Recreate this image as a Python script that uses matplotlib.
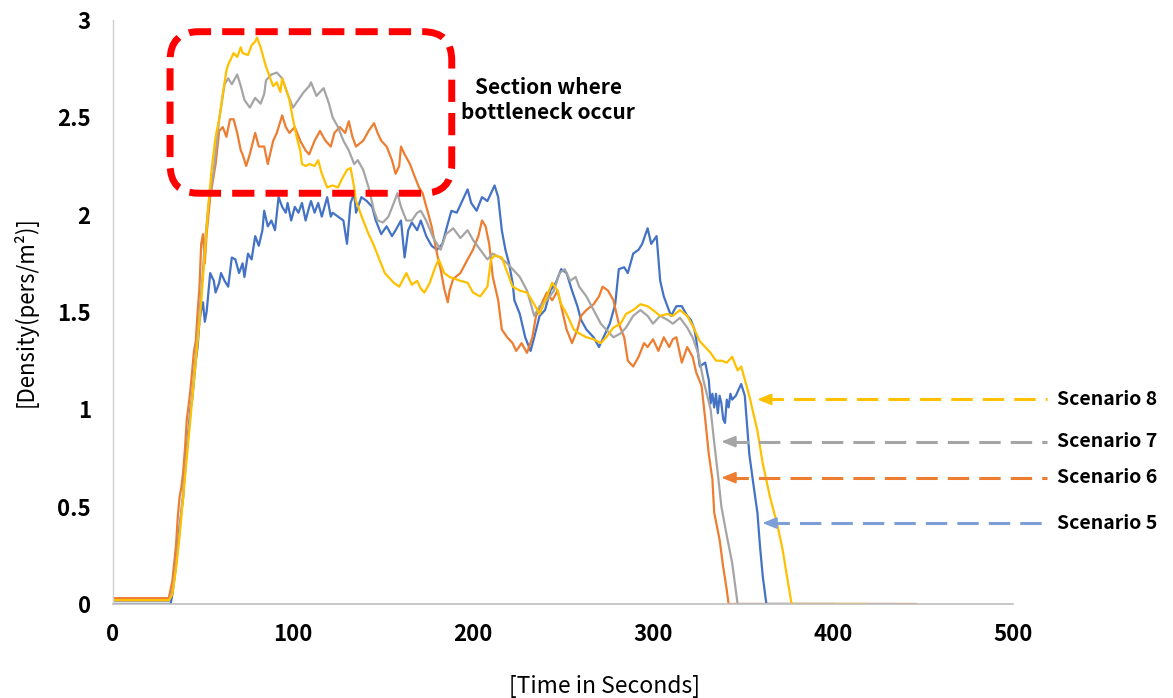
import matplotlib
matplotlib.use("Agg")
import matplotlib.pyplot as plt
from matplotlib.patches import FancyBboxPatch

plt.rcParams['font.family'] = ['Noto Sans CJK KR', 'DejaVu Sans']

# values (time in s, density in pers/m2)
t_s5 = [0, 32, 33, 35, 37, 39, 40, 41, 42, 43, 44, 45, 46, 47, 48, 49, 50, 51, 52, 54,
        56, 57, 59, 60, 62, 64, 66, 68, 70, 72, 73, 75, 77, 79, 81, 83, 84, 86, 88, 90,
        92, 94, 96, 97, 99, 101, 103, 105, 107, 109, 110, 112, 114, 116, 119, 121, 122,
        125, 128, 130, 132, 134, 135, 138, 141, 144, 146, 149, 152, 155, 157, 160, 162,
        164, 166, 169, 171, 174, 177, 180, 183, 185, 188, 191, 194, 197, 199, 202, 205,
        208, 210, 212, 214, 216, 218, 220, 222, 223, 226, 229, 232, 234, 237, 240, 243,
        246, 249, 252, 255, 258, 260, 263, 267, 270, 272, 276, 279, 281, 284, 286, 289,
        292, 294, 297, 299, 302, 304, 306, 308, 310, 313, 316, 319, 321, 323, 324, 326,
        329, 331, 332, 333, 334, 335, 336, 337, 338, 339, 340, 341, 342, 343, 344, 346,
        349, 351, 352, 353.5, 356, 358, 359.5, 361, 363, 400]
d_s5 = [0.0, 0.0, 0.05, 0.2, 0.4, 0.55, 0.72, 0.8, 0.9, 1.0, 1.05, 1.15, 1.25, 1.32, 1.45,
        1.51, 1.55, 1.45, 1.5, 1.70, 1.66, 1.60, 1.65, 1.70, 1.66, 1.63, 1.78, 1.77, 1.70,
        1.75, 1.68, 1.80, 1.77, 1.89, 1.84, 1.92, 2.02, 1.94, 1.97, 1.92, 2.09, 2.04, 2.01,
        2.06, 1.97, 2.04, 2.01, 2.06, 1.97, 2.04, 2.07, 2.01, 2.06, 1.99, 2.09, 1.99, 2.01,
        1.99, 1.97, 1.85, 2.06, 2.11, 2.01, 2.09, 2.07, 2.04, 1.97, 1.90, 1.94, 1.89, 1.92,
        1.97, 1.78, 1.92, 1.96, 1.92, 1.97, 1.89, 1.84, 1.82, 1.85, 1.92, 2.02, 2.01, 2.07,
        2.13, 2.06, 2.02, 2.09, 2.07, 2.11, 2.15, 2.09, 1.92, 1.82, 1.75, 1.65, 1.56, 1.49,
        1.37, 1.30, 1.37, 1.48, 1.51, 1.61, 1.65, 1.72, 1.70, 1.61, 1.53, 1.46, 1.41, 1.37,
        1.32, 1.36, 1.44, 1.54, 1.72, 1.73, 1.70, 1.80, 1.82, 1.85, 1.93, 1.85, 1.89, 1.66,
        1.58, 1.53, 1.48, 1.53, 1.53, 1.48, 1.46, 1.41, 1.36, 1.22, 1.24, 1.15, 1.03, 1.08,
        1.01, 1.08, 0.98, 1.07, 1.03, 0.95, 0.93, 1.05, 1.01, 1.08, 1.05, 1.07, 1.13, 1.07,
        0.95, 0.77, 0.60, 0.47, 0.29, 0.14, 0.0, 0.0]

t_s6 = [0, 31, 33, 35, 36, 37, 38, 39, 40, 41, 42, 43, 44, 45, 46, 47, 48, 49, 50, 51, 52,
        54, 57, 59, 61, 63, 65, 67, 69, 71, 72, 74, 76, 79, 81, 84, 86, 89, 91, 94, 96, 98,
        101, 104, 107, 109, 112, 115, 118, 121, 123, 126, 129, 131, 133, 135, 139, 142, 145,
        147, 149, 152, 155, 157, 159, 160, 162, 165, 167, 170, 172, 175, 177, 180, 182, 184,
        186, 187, 189, 193, 197, 200, 203, 205, 207, 209, 211, 214, 216, 219, 222, 224, 227,
        230, 233, 235, 238, 241, 244, 247, 249, 252, 255, 258, 260, 263, 267, 270, 272, 275,
        278, 281, 284, 286, 289, 292, 295, 297, 300, 303, 306, 309, 311, 313, 316, 319, 322,
        324, 327, 329, 331, 333, 334, 337, 339, 341, 342, 446]
d_s6 = [0.03, 0.03, 0.12, 0.3, 0.45, 0.55, 0.6, 0.68, 0.8, 0.95, 1.02, 1.1, 1.2, 1.3, 1.35,
        1.5, 1.62, 1.85, 1.9, 1.75, 1.9, 2.09, 2.26, 2.43, 2.45, 2.40, 2.49, 2.49, 2.42, 2.33,
        2.31, 2.25, 2.31, 2.42, 2.35, 2.35, 2.26, 2.38, 2.42, 2.51, 2.45, 2.42, 2.45, 2.38,
        2.33, 2.31, 2.38, 2.43, 2.38, 2.35, 2.42, 2.45, 2.42, 2.48, 2.40, 2.35, 2.38, 2.43,
        2.47, 2.42, 2.38, 2.35, 2.28, 2.21, 2.25, 2.35, 2.31, 2.26, 2.21, 2.14, 2.11, 2.01,
        1.94, 1.80, 1.72, 1.62, 1.55, 1.61, 1.67, 1.70, 1.77, 1.82, 1.89, 1.97, 1.94, 1.85,
        1.68, 1.56, 1.41, 1.37, 1.34, 1.30, 1.34, 1.29, 1.37, 1.48, 1.54, 1.60, 1.56, 1.61,
        1.53, 1.41, 1.34, 1.41, 1.48, 1.51, 1.54, 1.58, 1.63, 1.61, 1.56, 1.44, 1.37, 1.25,
        1.22, 1.27, 1.34, 1.32, 1.36, 1.30, 1.37, 1.32, 1.36, 1.37, 1.24, 1.32, 1.27, 1.19,
        1.12, 0.95, 0.77, 0.64, 0.47, 0.33, 0.19, 0.07, 0.0, 0.0]

t_s7 = [0, 31, 33, 35, 37, 39, 41, 43, 45, 47, 49, 51, 53, 56, 59, 62, 64, 66, 69, 71, 73,
        76, 79, 82, 84, 85, 88, 91, 94, 97, 100, 103, 106, 109, 110, 113, 117, 120, 122, 125,
        128, 131, 134, 136, 139, 142, 145, 147, 150, 153, 156, 158, 160, 163, 166, 169, 171,
        174, 178, 182, 185, 189, 193, 197, 200, 204, 208, 211, 215, 219, 222, 226, 230, 234,
        237, 241, 245, 248, 251, 254, 257, 259, 263, 267, 271, 274, 278, 282, 285, 289, 293,
        297, 300, 304, 308, 311, 315, 319, 322, 325, 328, 332, 334, 336, 338, 341, 344, 346,
        347, 434]
d_s7 = [0.015, 0.015, 0.06, 0.2, 0.38, 0.58, 0.78, 0.98, 1.18, 1.38, 1.6, 1.85, 2.05, 2.23,
        2.49, 2.67, 2.70, 2.67, 2.72, 2.66, 2.59, 2.55, 2.60, 2.57, 2.62, 2.69, 2.72, 2.73,
        2.70, 2.62, 2.55, 2.59, 2.63, 2.66, 2.68, 2.61, 2.65, 2.57, 2.50, 2.45, 2.38, 2.33,
        2.26, 2.28, 2.23, 2.14, 2.02, 1.97, 1.96, 1.99, 2.06, 2.11, 2.04, 1.97, 1.97, 2.01,
        2.02, 1.97, 1.88, 1.82, 1.90, 1.93, 1.88, 1.92, 1.87, 1.82, 1.77, 1.80, 1.78, 1.75,
        1.72, 1.68, 1.61, 1.48, 1.53, 1.56, 1.61, 1.70, 1.72, 1.66, 1.68, 1.63, 1.58, 1.51,
        1.44, 1.41, 1.37, 1.39, 1.42, 1.48, 1.51, 1.48, 1.44, 1.48, 1.46, 1.44, 1.47, 1.42,
        1.37, 1.29, 1.15, 1.00, 0.83, 0.67, 0.50, 0.35, 0.21, 0.07, 0.0, 0.0]

t_s8 = [0, 31, 33, 35, 37, 39, 41, 43, 45, 47, 49, 51, 53, 55, 57, 59, 61, 63, 64, 67, 69,
        71, 72, 75, 77, 79, 80, 82, 85, 87, 89, 91, 93, 94, 97, 98, 100, 102, 104, 105, 107,
        109, 112, 114, 116, 119, 122, 125, 127, 130, 132, 134, 135, 139, 142, 145, 148, 151,
        153, 156, 159, 163, 166, 169, 171, 173, 176, 179, 181, 184, 187, 193, 197, 200, 204,
        208, 210, 212, 216, 220, 222, 226, 230, 234, 237, 241, 244, 247, 249, 252, 256, 259,
        263, 267, 271, 274, 278, 282, 285, 289, 293, 297, 300, 304, 308, 311, 315, 319, 322,
        326, 332, 335, 338, 341, 344, 347, 349, 352, 354, 358, 361, 365, 369, 372, 375, 377,
        419]
d_s8 = [0.02, 0.02, 0.05, 0.18, 0.35, 0.55, 0.75, 0.95, 1.15, 1.35, 1.55, 1.8, 2.05, 2.25,
        2.4, 2.49, 2.62, 2.74, 2.77, 2.83, 2.81, 2.86, 2.83, 2.82, 2.87, 2.89, 2.91, 2.86,
        2.76, 2.71, 2.66, 2.68, 2.63, 2.70, 2.62, 2.59, 2.49, 2.40, 2.33, 2.26, 2.25, 2.26,
        2.25, 2.28, 2.21, 2.14, 2.15, 2.14, 2.18, 2.23, 2.24, 2.14, 2.07, 1.97, 1.90, 1.84,
        1.77, 1.70, 1.68, 1.65, 1.63, 1.70, 1.64, 1.66, 1.62, 1.60, 1.65, 1.73, 1.77, 1.70,
        1.68, 1.66, 1.65, 1.60, 1.58, 1.63, 1.77, 1.79, 1.78, 1.68, 1.63, 1.61, 1.60, 1.54,
        1.49, 1.58, 1.65, 1.61, 1.54, 1.49, 1.41, 1.39, 1.37, 1.36, 1.34, 1.37, 1.42, 1.44,
        1.49, 1.51, 1.54, 1.53, 1.51, 1.48, 1.49, 1.48, 1.51, 1.48, 1.43, 1.35, 1.29, 1.25,
        1.25, 1.24, 1.27, 1.20, 1.22, 1.12, 1.05, 0.89, 0.72, 0.55, 0.41, 0.28, 0.11, 0.0,
        0.0]

names = ['Scenario 5', 'Scenario 6', 'Scenario 7', 'Scenario 8']
colors = ['#4472C4', '#ED7D31', '#A5A5A5', '#FFC000']
arrow_colors = ['#7F9ED8', '#ED7D31', '#A5A5A5', '#FFC000']
# where each label arrow points (t, density)
arrow_tips = [(360.7, 0.416), (337.9, 0.649), (337.9, 0.834), (357.8, 1.051)]

series = [(t_s5, d_s5), (t_s6, d_s6), (t_s7, d_s7), (t_s8, d_s8)]

fig = plt.figure(figsize=(11.73, 6.98), dpi=100)
ax = fig.add_axes([113 / 1173, 94 / 698, 900 / 1173, 584 / 698])

for (t, d), c in zip(series, colors):
    ax.plot(t, d, color=c, lw=1.6, solid_joinstyle='round')

ax.set_xlim(0, 500)
ax.set_ylim(0, 3)
ax.set_xticks([0, 100, 200, 300, 400, 500])
ax.set_yticks([0, 0.5, 1, 1.5, 2, 2.5, 3])
ax.set_yticklabels(['0', '0.5', '1', '1.5', '2', '2.5', '3'])
ax.tick_params(length=0, labelsize=16)
ax.tick_params(axis='y', pad=16)
ax.tick_params(axis='x', pad=14)
for lab in ax.get_xticklabels() + ax.get_yticklabels():
    lab.set_fontweight('bold')
for s in ['top', 'right']:
    ax.spines[s].set_visible(False)
ax.spines['bottom'].set_color('#BFBFBF')
ax.spines['bottom'].set_linewidth(1.2)
ax.spines['left'].set_color('#D0D0D0')
ax.spines['left'].set_linewidth(1.0)

fig.text(604 / 1173, 1 - 686 / 698, '[Time in Seconds]', ha='center', va='center',
         fontsize=16.5)
fig.text(25 / 1173, 1 - 312 / 698, '[Density(pers/m²)]', ha='center', va='center',
         rotation=90, fontsize=16)

# red dashed rounded box around the bottleneck section
box = FancyBboxPatch((31.7, 2.11), 188.2 - 31.7, 2.94 - 2.11,
                     boxstyle='round,pad=0,rounding_size=16',
                     mutation_aspect=0.00924, fill=False, ec='#FF0000', lw=5,
                     ls=(0, (3.2, 1.6)), clip_on=False, zorder=5)
ax.add_patch(box)
ax.text(241.7, 2.59, 'Section where\nbottleneck occur', ha='center', va='center',
        fontsize=15, fontweight='bold', linespacing=1.25)

# dashed arrows to the scenario labels
for name, c, (tx, ty) in zip(names, arrow_colors, arrow_tips):
    ax.plot([tx + 3, 518.9], [ty, ty], color=c, lw=2.2, ls=(0, (7, 3.3)),
            clip_on=False, solid_capstyle='butt', dash_capstyle='butt')
    ax.annotate('', xy=(tx, ty), xytext=(tx + 5, ty),
                arrowprops=dict(arrowstyle='-|>,head_length=0.7,head_width=0.28',
                                color=c, lw=1.5, mutation_scale=12,
                                shrinkA=0, shrinkB=0), annotation_clip=False)
    ax.text(524.4, ty, name, ha='left', va='center', fontsize=14,
            fontweight='bold', clip_on=False)

fig.savefig('out.png', dpi=100)
